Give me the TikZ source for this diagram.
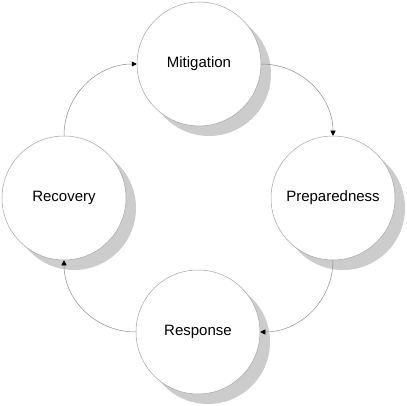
\documentclass[tikz,border=0pt]{standalone}
\usepackage{fontspec}
\setmainfont{Liberation Sans}
\usepackage{tikz}
\usetikzlibrary{arrows.meta,shadows}
\definecolor{rim}{HTML}{A4A4A4}
\definecolor{shade}{HTML}{CCCCCC}
\definecolor{link}{HTML}{8C8C8C}
\tikzset{
  phase/.style={circle,draw=rim,line width=.5pt,fill=white,minimum size=124pt,inner sep=0pt,
    font=\fontsize{15pt}{18pt}\selectfont,
    drop shadow={shadow xshift=10pt,shadow yshift=-10pt,fill=shade,opacity=1}},
  cyc/.style={-{Triangle[length=5pt,width=5pt,color=black]},line width=.5pt,draw=link}
}
\begin{document}
\begin{tikzpicture}[x=1pt,y=-1pt]
  \useasboundingbox (0,0) rectangle (407,406);
  \node[phase] (mit) at (199,64) {Mitigation};
  \node[phase] (prep) at (333,198) {Preparedness};
  \node[phase] (resp) at (198,332) {Response};
  \node[phase] (rec) at (64,198) {Recovery};
  \draw[cyc] (mit.east) to[out=0,in=90] (prep.north);
  \draw[cyc] (prep.south) to[out=-90,in=0] (resp.east);
  \draw[cyc] (resp.west) to[out=180,in=-90] (rec.south);
  \draw[cyc] (rec.north) to[out=90,in=180] (mit.west);
\end{tikzpicture}
\end{document}
